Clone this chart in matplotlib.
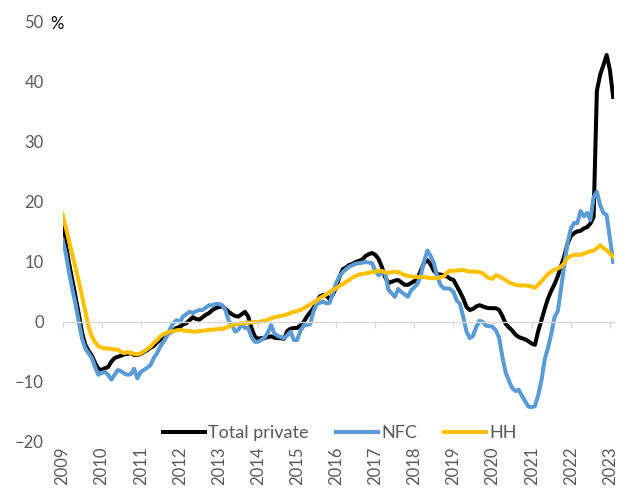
import numpy as np
import matplotlib
matplotlib.use("Agg")
import matplotlib.pyplot as plt

# Monthly values, Jan 2009 .. Feb 2023 (% y/y)
total_private = [
    15.8, 13.0, 9.8, 7.0, 4.2, 1.3, -1.8, -3.8, -4.8, -5.6, -6.8, -7.8,       # 2009
    -8.0, -7.7, -7.5, -6.6, -6.0, -5.8, -5.6, -5.4, -5.3, -5.2, -5.5, -5.5,   # 2010
    -5.3, -5.0, -4.7, -4.3, -4.0, -3.4, -3.0, -2.5, -2.1, -1.7, -1.4, -1.0,   # 2011
    -0.8, -0.4, -0.2, 0.3, 0.8, 0.5, 0.4, 0.8, 1.2, 1.5, 2.0, 2.3,            # 2012
    2.5, 2.6, 2.2, 1.7, 1.3, 1.0, 0.9, 1.3, 1.7, 0.9, -1.0, -2.4,             # 2013
    -2.8, -2.7, -2.7, -2.5, -2.4, -2.6, -2.7, -2.7, -2.8, -1.5, -1.1, -1.0,   # 2014
    -1.0, -0.6, 0.0, 0.9, 1.6, 2.3, 3.4, 4.3, 4.5, 4.4, 3.8, 4.6,             # 2015
    5.8, 7.5, 8.8, 9.1, 9.5, 9.7, 10.0, 10.2, 10.4, 11.0, 11.3, 11.5,         # 2016
    11.2, 10.5, 9.2, 7.5, 6.5, 6.7, 6.9, 7.0, 6.6, 6.2, 6.2, 6.5,             # 2017
    6.8, 7.4, 8.6, 9.9, 10.3, 9.6, 8.5, 8.0, 7.9, 7.8, 7.6, 7.2,              # 2018
    7.0, 6.0, 5.0, 3.9, 2.5, 2.0, 2.2, 2.6, 2.8, 2.6, 2.4, 2.3,               # 2019
    2.3, 2.3, 2.0, 1.0, -0.3, -0.9, -1.4, -2.1, -2.5, -2.7, -2.9, -3.2,       # 2020
    -3.6, -3.8, -1.5, 0.3, 2.2, 3.9, 5.2, 6.3, 7.6, 9.3, 11.0, 13.0,          # 2021
    14.3, 14.8, 15.1, 15.2, 15.6, 15.8, 16.4, 17.5, 38.5, 41.2, 42.8, 44.5,   # 2022
    42.0, 37.5,                                                               # 2023
]

nfc = [
    13.8, 11.5, 8.3, 5.5, 3.0, 0.0, -2.8, -4.4, -5.2, -6.0, -7.5, -8.8,       # 2009
    -8.5, -8.3, -8.8, -9.6, -8.8, -8.0, -8.2, -8.6, -8.8, -8.7, -7.8, -9.4,   # 2010
    -8.3, -8.0, -7.6, -7.2, -6.0, -5.2, -4.1, -3.3, -2.4, -1.2, -0.2, 0.3,    # 2011
    0.0, 0.9, 1.3, 1.7, 1.5, 1.8, 2.0, 2.0, 2.4, 2.8, 2.8, 3.0,               # 2012
    3.0, 2.8, 2.0, 0.2, -0.5, -1.6, -1.3, -0.3, -1.0, -1.0, -2.5, -3.3,       # 2013
    -3.3, -3.0, -2.6, -1.8, -0.5, -1.9, -2.3, -2.5, -2.7, -2.2, -1.6, -3.0,   # 2014
    -3.0, -1.5, -0.6, -0.5, -0.4, 1.7, 3.0, 3.2, 3.4, 3.1, 3.2, 4.8,          # 2015
    6.5, 7.6, 8.3, 8.8, 9.2, 9.5, 9.7, 9.8, 9.9, 10.0, 9.9, 9.8,              # 2016
    8.5, 7.8, 8.2, 8.2, 5.4, 4.8, 4.2, 5.5, 5.0, 4.6, 4.2, 5.3,               # 2017
    5.8, 6.4, 7.8, 10.2, 11.9, 11.0, 9.8, 7.6, 6.2, 5.6, 5.6, 5.5,            # 2018
    5.0, 3.6, 3.0, 0.8, -1.6, -2.7, -2.3, -0.8, 0.2, 0.0, -0.6, -0.7,         # 2019
    -0.8, -1.4, -2.6, -5.8, -8.4, -9.8, -11.0, -11.5, -11.3, -12.3, -13.2, -14.1,  # 2020
    -14.2, -14.0, -12.2, -9.7, -6.2, -4.3, -2.0, 0.8, 1.8, 5.5, 9.5, 13.2,    # 2021
    15.5, 16.5, 16.5, 18.5, 17.6, 18.2, 17.0, 20.8, 21.7, 19.5, 18.2, 17.8,   # 2022
    14.0, 10.0,                                                               # 2023
]

hh = [
    18.0, 15.8, 13.5, 11.3, 9.0, 6.8, 4.3, 1.8, -0.8, -2.4, -3.4, -4.0,       # 2009
    -4.3, -4.4, -4.4, -4.5, -4.6, -4.6, -5.0, -5.2, -5.0, -5.2, -5.3, -5.4,   # 2010
    -5.2, -4.9, -4.5, -4.1, -3.5, -3.0, -2.4, -2.0, -1.8, -1.6, -1.5, -1.4,   # 2011
    -1.3, -1.4, -1.5, -1.5, -1.6, -1.6, -1.5, -1.5, -1.4, -1.3, -1.3, -1.2,   # 2012
    -1.2, -1.1, -1.0, -0.8, -0.5, -0.4, -0.3, -0.2, -0.2, -0.1, -0.1, 0.0,    # 2013
    0.0, 0.1, 0.2, 0.4, 0.6, 0.8, 0.9, 1.0, 1.1, 1.3, 1.5, 1.7,               # 2014
    1.8, 2.0, 2.3, 2.6, 2.9, 3.2, 3.6, 4.0, 4.3, 4.6, 5.0, 5.4,               # 2015
    5.6, 6.0, 6.3, 6.7, 7.0, 7.4, 7.7, 7.9, 8.0, 8.1, 8.2, 8.3,               # 2016
    8.4, 8.5, 8.5, 8.3, 8.2, 8.3, 8.4, 8.3, 8.1, 7.8, 7.7, 7.6,               # 2017
    7.5, 7.5, 7.5, 7.5, 7.4, 7.3, 7.3, 7.3, 7.5, 7.6, 8.2, 8.6,               # 2018
    8.5, 8.6, 8.6, 8.7, 8.5, 8.4, 8.4, 8.4, 8.3, 8.1, 7.6, 7.3,               # 2019
    7.2, 7.8, 7.6, 7.3, 7.0, 6.6, 6.4, 6.2, 6.1, 6.1, 6.1, 6.0,               # 2020
    5.9, 5.7, 6.2, 6.8, 7.4, 8.0, 8.4, 8.7, 8.9, 9.2, 9.8, 10.7,              # 2021
    11.0, 11.2, 11.2, 11.2, 11.4, 11.6, 11.8, 11.9, 12.3, 12.8, 12.3, 12.0,   # 2022
    11.4, 10.9,                                                               # 2023
]

years = list(range(2009, 2024))
t = 2009 + np.arange(len(total_private)) / 12.0

plt.rcParams['font.family'] = ['Lato', 'DejaVu Sans']
grey = '#595959'

fig = plt.figure(figsize=(6.29, 4.99), dpi=100)
ax = fig.add_axes([62.5 / 629, 57 / 499, (614 - 62.5) / 629, 420 / 499])

ax.plot(t, total_private, color='black', lw=2.9, label='Total private', solid_joinstyle='round')
ax.plot(t, nfc, color='#5B9BD5', lw=2.9, label='NFC', solid_joinstyle='round')
ax.plot(t, hh, color='#FFC000', lw=2.9, label='HH', solid_joinstyle='round')

ax.set_xlim(2009, 2023.105)
ax.set_ylim(-20, 50)
ax.set_yticks(np.arange(-20, 51, 10))
ax.tick_params(axis='y', length=0, pad=13.5, labelsize=12, labelcolor=grey)

for s in ['top', 'right', 'left']:
    ax.spines[s].set_visible(False)
ax.spines['bottom'].set_position(('data', 0))
ax.spines['bottom'].set_color('#D9D9D9')
ax.spines['bottom'].set_linewidth(1.0)
ax.set_xticks(years)
ax.tick_params(axis='x', direction='out', length=4, color='#D9D9D9', labelbottom=False)

# year labels at the bottom of the plot area
sec = ax.secondary_xaxis('bottom')
sec.spines['bottom'].set_visible(False)
sec.set_xticks(years)
sec.set_xticklabels([str(y) for y in years], rotation=90, fontsize=12, color=grey)
sec.tick_params(axis='x', length=0, pad=3)

fig.text(50 / 629, 1 - 24 / 499, '%', fontsize=12, color='black', ha='left', va='center')

leg = ax.legend(loc='lower center', bbox_to_anchor=(0.503, -0.037), ncol=3, frameon=False,
                fontsize=13, handlelength=2.33, handletextpad=0.17, columnspacing=1.5)
for txt in leg.get_texts():
    txt.set_color(grey)

fig.savefig('out.png', dpi=100)
